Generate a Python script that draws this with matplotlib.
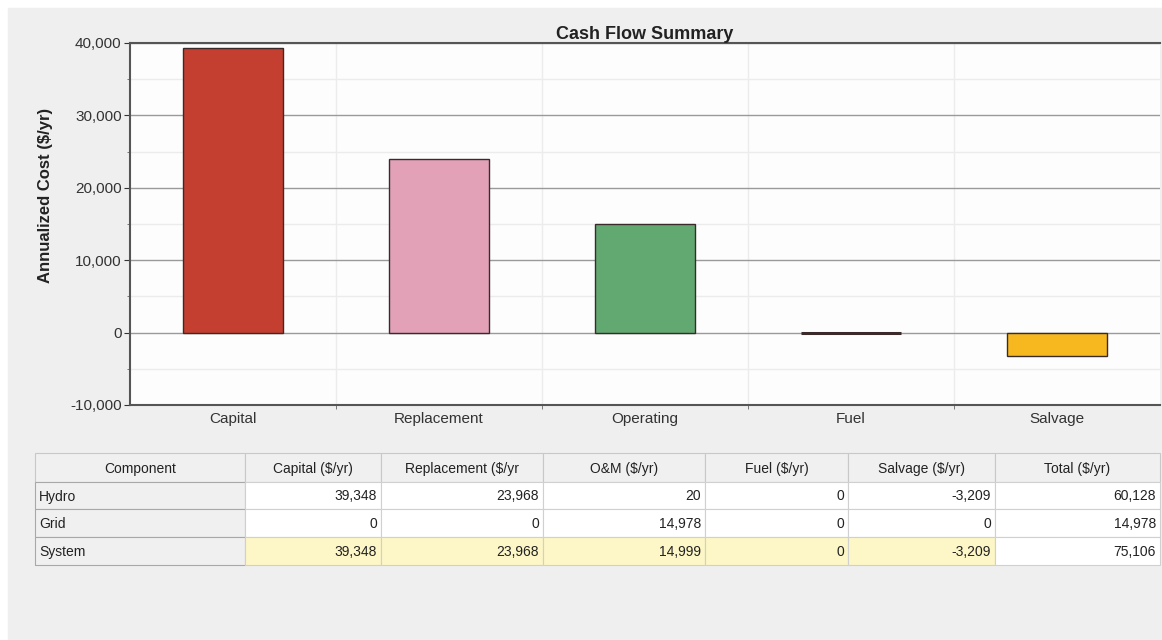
import matplotlib.pyplot as plt
import matplotlib.patches as mpatches
from matplotlib.ticker import FuncFormatter, MultipleLocator

plt.rcParams['font.family'] = ['Liberation Sans', 'DejaVu Sans']

#%% data
categories = ['Capital', 'Replacement', 'Operating', 'Fuel', 'Salvage']
values = [39348, 23968, 14999, 0, -3209]
bar_colors = ['#c43f30', '#e3a1b8', '#62a971', '#5a5a5a', '#f7b81f']

col_headers = ['Component', 'Capital ($/yr)', 'Replacement ($/yr', 'O&M ($/yr)',
               'Fuel ($/yr)', 'Salvage ($/yr)', 'Total ($/yr)']
row_names = ['Hydro', 'Grid', 'System']
hydro = ['39,348', '23,968', '20', '0', '-3,209', '60,128']
grid = ['0', '0', '14,978', '0', '0', '14,978']
system = ['39,348', '23,968', '14,999', '0', '-3,209', '75,106']

#%% figure
W, H = 1162, 640
fig = plt.figure(figsize=(W/100, H/100), dpi=100, facecolor='white')
bg = fig.add_axes([0, 0, 1, 1])
bg.set_xlim(0, W)
bg.set_ylim(H, 0)
bg.axis('off')
bg.add_patch(mpatches.Rectangle((8, 8), W-8, H-8, color='#efefef', zorder=0))

ax = fig.add_axes([130/W, 1-405/H, 1030/W, 362/H])
ax.set_facecolor('#fdfdfd')
x = list(range(len(categories)))
for i in x:
    lw = 2.2 if values[i] == 0 else 1.0
    ax.bar(i, values[i], width=0.49, color=bar_colors[i], edgecolor='#3a2a2a',
           linewidth=lw, zorder=3)
ax.set_xlim(-0.5, 4.5)
ax.set_ylim(-10000, 40000)
ax.yaxis.set_major_locator(MultipleLocator(10000))
ax.yaxis.set_minor_locator(MultipleLocator(5000))
ax.yaxis.set_major_formatter(FuncFormatter(lambda v, p: '{:,.0f}'.format(v)))
ax.grid(which='major', axis='y', color='#9a9a9a', linewidth=1.0, zorder=1)
ax.grid(which='minor', axis='y', color='#ececec', linewidth=1.0, zorder=1)
ax.set_xticks(x)
ax.set_xticklabels(categories)
ax.set_xticks([0.5, 1.5, 2.5, 3.5], minor=True)
ax.grid(which='minor', axis='x', color='#ececec', linewidth=1.0, zorder=1)
ax.tick_params(axis='x', which='major', length=0, pad=5, labelsize=11, colors='#333333')
ax.tick_params(axis='x', which='minor', length=3, color='#666666')
ax.tick_params(axis='y', which='major', length=4, labelsize=11, colors='#333333', pad=2)
ax.tick_params(axis='y', which='minor', length=2, color='#666666')
for s in ['left', 'bottom', 'top']:
    ax.spines[s].set_color('#555555')
    ax.spines[s].set_linewidth(1.5)
ax.spines['right'].set_visible(False)
ax.set_title('Cash Flow Summary', fontweight='bold', fontsize=13, pad=1, color='#222222')
ax.set_ylabel('Annualized Cost ($/yr)', fontweight='bold', fontsize=12, color='#222222')
ax.yaxis.set_label_coords(-0.075, 0.58)

#%% table drawn in pixel coords
col_x = [35, 245, 381, 543, 705, 848, 995, 1160]
row_y = [453, 482, 509, 537, 565]
rows = [hydro, grid, system]
tsize = 10
for c in range(len(col_headers)):
    x0, x1 = col_x[c], col_x[c+1]
    bg.add_patch(mpatches.Rectangle((x0, row_y[0]), x1-x0, row_y[1]-row_y[0],
                                    facecolor='#f0f0f0', edgecolor='#c8c8c8', lw=0.8))
    bg.text((x0+x1)/2, (row_y[0]+row_y[1])/2+1, col_headers[c], ha='center', va='center',
            fontsize=tsize, color='#222222')
for r in range(len(row_names)):
    y0, y1 = row_y[r+1], row_y[r+2]
    bg.add_patch(mpatches.Rectangle((col_x[0], y0), col_x[1]-col_x[0], y1-y0,
                                    facecolor='#f0f0f0', edgecolor='#a8a8a8', lw=0.8))
    bg.text(col_x[0]+4, (y0+y1)/2+1, row_names[r], ha='left', va='center',
            fontsize=tsize, color='#222222')
    for c in range(6):
        x0, x1 = col_x[c+1], col_x[c+2]
        fc = '#fdf6c6' if (row_names[r] == 'System' and c < 5) else 'white'
        bg.add_patch(mpatches.Rectangle((x0, y0), x1-x0, y1-y0,
                                        facecolor=fc, edgecolor='#d0d0d0', lw=0.8))
        bg.text(x1-4, (y0+y1)/2+1, rows[r][c], ha='right', va='center',
                fontsize=tsize, color='#222222')

fig.savefig('out.png', dpi=100, facecolor=fig.get_facecolor())
